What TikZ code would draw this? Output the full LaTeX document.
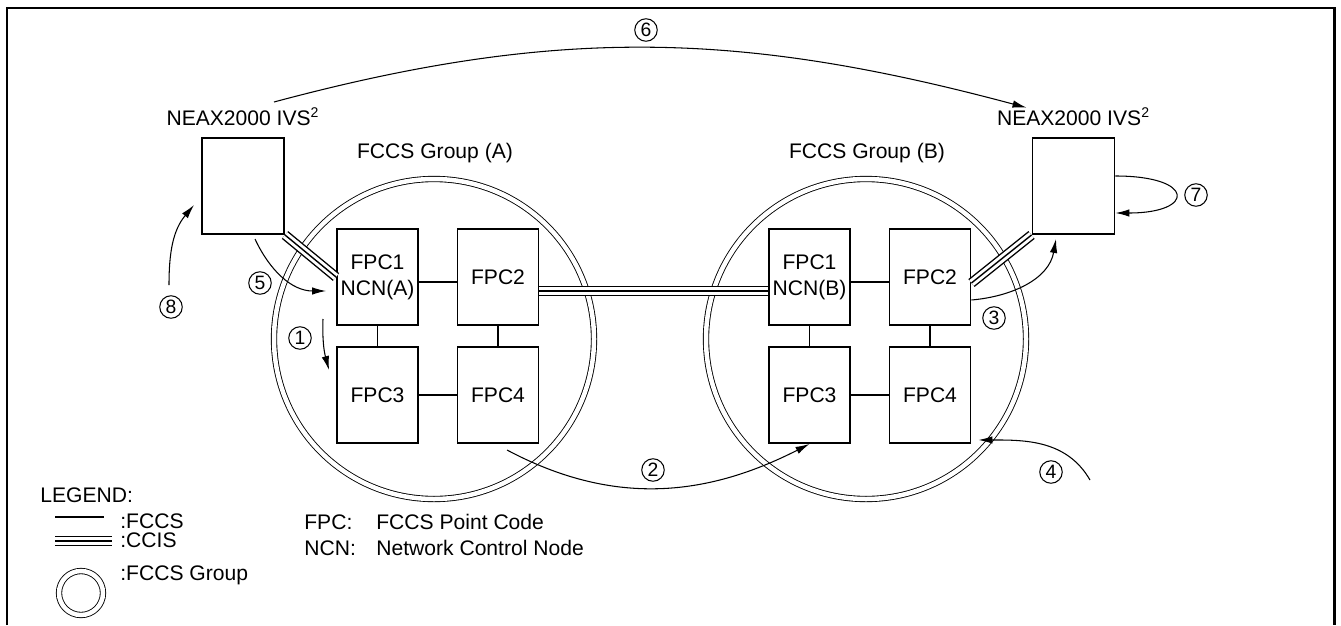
\documentclass[tikz,border=0pt]{standalone}
\usepackage{fontspec}
\setmainfont{Liberation Sans}
\usetikzlibrary{arrows.meta, positioning, calc}

\begin{document}
\begin{tikzpicture}[
  x=0.2mm, y=0.2mm,
  every node/.style={font=\fontsize{12pt}{15pt}\selectfont, inner sep=0pt},
  fpc/.style={rectangle, draw, line width=1.1pt, minimum width=16.2mm, minimum height=19.2mm, align=center},
  pbx/.style={fpc, minimum width=16.4mm},
  grp/.style={circle, draw, line width=0.5pt, double, double distance=0.9mm},
  fccs/.style={line width=0.9pt},
  ccis/.style={line width=5.7pt, postaction={draw=white, line width=4.1pt}, postaction={draw=black, line width=0.8pt}},
  flow/.style={line width=0.6pt, -{Latex[length=2.8mm, width=1.5mm]}},
  num/.style={circle, draw, line width=0.6pt, minimum size=4.5mm, font=\fontsize{11pt}{11pt}\selectfont},
  lbl/.style={anchor=west}
]
  \useasboundingbox (0,0) rectangle (1341,625);

  % Frame
  \draw[line width=1.7pt] (7,0) -- (7,617) -- (1334,617) -- (1334,0);

  % FCCS groups
  \foreach \g/\G/\dx in {a/A/0, b/B/432} {
    \node[grp, minimum size=64mm] (g\g) at (434+\dx,286) {};
    \node (grplab\g) at (435+\dx,472) {FCCS Group (\G)};
    \node[fpc] (f\g1) at (377.5+\dx,348) {FPC1\\NCN(\G)};
    \node[fpc] (f\g2) at (498+\dx,348) {FPC2};
    \node[fpc] (f\g3) at (377.5+\dx,230) {FPC3};
    \node[fpc] (f\g4) at (498+\dx,230) {FPC4};
    \draw[fccs] ([yshift=-1mm]f\g1.east) -- ([yshift=-1mm]f\g2.west);
    \draw[fccs] (f\g1) -- (f\g3);
    \draw[fccs] (f\g2) -- (f\g4);
    \draw[fccs] (f\g3) -- (f\g4);
  }

  % NEAX2000 IVS2 systems
  \node[pbx] (lbox) at (243,439) {};
  \node[pbx] (rbox) at (1073.5,439) {};
  \node[above=2.2mm of lbox] (llab) {NEAX2000 IVS\textsuperscript{2}};
  \node[above=2.2mm of rbox] (rlab) {NEAX2000 IVS\textsuperscript{2}};

  % CCIS links
  \draw[ccis] (lbox.south east) -- (fa1.west);
  \draw[ccis] ([yshift=-2.8mm]fa2.east) -- ([yshift=-2.8mm]fb1.west);
  \draw[ccis] ([yshift=-1.2mm]fb2.east) -- (rbox.south west);

  % Numbered flows
  \coordinate (t1) at (323,306);
  \coordinate (t2) at (507,175);
  \coordinate (t4) at (1090,145);
  \coordinate (t5) at (255,386);
  \coordinate (t6) at (274,523);
  \coordinate (t8) at (169,340);
  \draw[flow] (t1) to[out=-92, in=105] ([shift={(-7,25)}]fa3.west);
  \draw[flow] (t2) to[out=-28, in=207] (fb3.south);
  \draw[flow] ([yshift=-4.6mm]fb2.east) to[out=5, in=-100] ([shift={(-17.5,-4)}]rbox.south);
  \draw[flow] (t4) to[out=120, in=0] ([shift={(7,4)}]fb4.south east);
  \draw[flow] (t5) to[out=-65, in=180] ([shift={(-10,-14)}]fa1.west);
  \draw[flow] (t6) to[out=15, in=165] ($(rlab.north)+(-47,0)$);
  \draw[flow] ([yshift=2mm]rbox.east) .. controls +(80,0) and +(80,0) .. ([yshift=-5.4mm]rbox.east);
  \draw[flow] (t8) to[out=90, in=-130] ([shift={(-7,-19)}]lbox.west);

  \node[num] (n1) at (300,287) {1};
  \node[num] (n2) at (653,155) {2};
  \node[num] (n3) at (994,307) {3};
  \node[num] (n4) at (1051,153) {4};
  \node[num] (n5) at (260,342) {5};
  \node[num] (n6) at (646,595) {6};
  \node[num] (n7) at (1196,430) {7};
  \node[num] (n8) at (171,318) {8};

  % Legend
  \node[lbl] (legend) at (40,130) {LEGEND:};
  \coordinate (lf1) at (55,108);
  \coordinate (lf2) at (104,108);
  \draw[fccs] (lf1) -- (lf2);
  \node[lbl] (lgfccs) at (120,104) {:FCCS};
  \coordinate (lc1) at (55,84);
  \coordinate (lc2) at (112,84);
  \draw[ccis] (lc1) -- (lc2);
  \node[lbl] (lgccis) at (120,85) {:CCIS};
  \node[grp, minimum size=8.8mm] (lgcirc) at (81,32) {};
  \node[lbl] (lggrp) at (120,50) {:FCCS Group};
  \node[lbl] (fpcabbr) at (304,103) {FPC:};
  \node[lbl] (fpcdesc) at (376,103) {FCCS Point Code};
  \node[lbl] (ncnabbr) at (304,77) {NCN:};
  \node[lbl] (ncndesc) at (376,77) {Network Control Node};
\end{tikzpicture}
\end{document}
